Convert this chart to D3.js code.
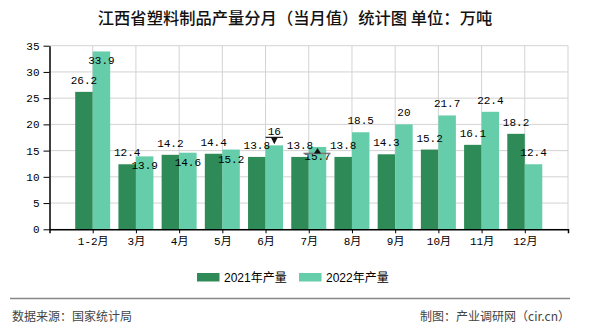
<!DOCTYPE html>
<html>
<head>
<meta charset="utf-8">
<script src="https://cdn.jsdelivr.net/npm/d3@7"></script>
<style>
  html, body { margin: 0; padding: 0; background: #fff; }
  svg { display: block; }
</style>
</head>
<body>
<svg id="chart" width="590" height="330"></svg>
<script>
const title = "江西省塑料制品产量分月（当月值）统计图 单位：万吨";
const categories = ["1-2月", "3月", "4月", "5月", "6月", "7月", "8月", "9月", "10月", "11月", "12月"];
const values2021 = [26.2, 12.4, 14.2, 14.4, 13.8, 13.8, 13.8, 14.3, 15.2, 16.1, 18.2];
const values2022 = [33.9, 13.9, 14.6, 15.2, 16, 15.7, 18.5, 20, 21.7, 22.4, 12.4];
const seriesNames = ["2021年产量", "2022年产量"];
const yTicks = [0, 5, 10, 15, 20, 25, 30, 35];
const markers = [{ cat: "6月", dir: "down" }, { cat: "7月", dir: "up" }];
const sourceText = "数据来源：国家统计局";
const creditText = "制图：产业调研网（cir.cn）";

const colors = ["#2e8b57", "#66cdaa"];
const monoFont = "'Liberation Mono', 'Noto Sans CJK SC', monospace";
const cjkFont = "'Noto Sans CJK SC', 'Liberation Sans', sans-serif";

const svg = d3.select("#chart");
const plotL = 49.5, plotR = 568, plotT = 45.7, plotB = 229.3;

const x = d3.scalePoint().domain(categories).range([plotL, plotR]).padding(1);
const y = d3.scaleLinear().domain([0, 35]).range([plotB, plotT]);
const barW = 17.5;

// title
svg.append("text")
  .attr("x", 295).attr("y", 24)
  .attr("text-anchor", "middle")
  .attr("font-family", cjkFont)
  .attr("font-size", 16.3)
  .attr("font-weight", 500)
  .attr("fill", "#111")
  .text(title);

// grid
const grid = svg.append("g");
grid.selectAll("line.h").data(yTicks).join("line")
  .attr("x1", plotL).attr("x2", plotR)
  .attr("y1", d => y(d)).attr("y2", d => y(d))
  .attr("stroke", "#d3d3d3").attr("stroke-width", 1);
grid.selectAll("line.v").data(categories.map(c => x(c)).concat([plotR])).join("line")
  .attr("x1", d => d).attr("x2", d => d)
  .attr("y1", y(35)).attr("y2", y(0))
  .attr("stroke", "#d3d3d3").attr("stroke-width", 1);

// bars
const series = [values2021, values2022];
series.forEach((vals, si) => {
  svg.append("g").selectAll("rect").data(vals).join("rect")
    .attr("x", (d, i) => x(categories[i]) + (si === 0 ? -barW : 0))
    .attr("y", d => y(d))
    .attr("width", barW)
    .attr("height", d => y(0) - y(d))
    .attr("fill", colors[si]);
});

// axes
const xAxis = svg.append("g")
  .attr("transform", `translate(0,${plotB})`)
  .call(d3.axisBottom(x).tickSize(4).tickSizeOuter(4));
xAxis.select(".domain").attr("stroke", "#000").attr("stroke-width", 1.5);
xAxis.selectAll(".tick line").attr("stroke", "#000");
xAxis.selectAll(".tick text")
  .attr("font-family", monoFont).attr("font-size", 11).attr("fill", "#000")
  .attr("dy", "0.71em").attr("y", 8);

const yAxis = svg.append("g")
  .attr("transform", `translate(${plotL},0)`)
  .call(d3.axisLeft(y).tickValues(yTicks).tickSize(6).tickSizeOuter(0));
yAxis.select(".domain").attr("stroke", "#000").attr("stroke-width", 1.5);
yAxis.selectAll(".tick line").attr("stroke", "#000");
yAxis.selectAll(".tick text")
  .attr("font-family", monoFont).attr("font-size", 11).attr("fill", "#000")
  .attr("x", -10);

// value labels
const labels = svg.append("g")
  .attr("font-family", monoFont).attr("font-size", 11).attr("fill", "#000")
  .attr("text-anchor", "middle");
categories.forEach((c, i) => {
  const v1 = values2021[i], v2 = values2022[i];
  labels.append("text")
    .attr("x", x(c) - barW / 2).attr("y", y(v1) - 8)
    .text(v1);
  const below = (v2 - v1 < 2 && v2 >= v1) || y(v2) - 20 < plotT;
  const mk = markers.find(m => m.cat === c);
  let ly = below ? y(v2) + 13 : y(v2) - 8;
  if (mk && mk.dir === "down") ly = y(v2) - 10.5;
  labels.append("text")
    .attr("x", x(c) + barW / 2).attr("y", ly)
    .text(v2);
});

// markers
markers.forEach(m => {
  const i = categories.indexOf(m.cat);
  const cx = x(m.cat) + barW / 2;
  const ty = y(values2022[i]);
  if (m.dir === "down") {
    svg.append("line")
      .attr("x1", cx - barW / 2).attr("x2", cx + barW / 2)
      .attr("y1", ty - 8).attr("y2", ty - 8)
      .attr("stroke", "#222").attr("stroke-width", 1.2);
    svg.append("path")
      .attr("d", `M${cx - 3.5},${ty - 8} L${cx + 3.5},${ty - 8} L${cx},${ty - 1} Z`)
      .attr("fill", "#111");
  } else {
    svg.append("line")
      .attr("x1", cx - 14).attr("x2", cx + 13)
      .attr("y1", ty + 6.5).attr("y2", ty + 6.5)
      .attr("stroke", "#777").attr("stroke-width", 1.5);
    svg.append("path")
      .attr("d", `M${cx - 3.5},${ty + 6.5} L${cx + 3.5},${ty + 6.5} L${cx},${ty + 1} Z`)
      .attr("fill", "#111");
  }
});

// legend
const legendX = [197, 299];
seriesNames.forEach((name, si) => {
  svg.append("rect")
    .attr("x", legendX[si]).attr("y", 273)
    .attr("width", 22.5).attr("height", 8.5)
    .attr("fill", colors[si]);
  svg.append("text")
    .attr("x", legendX[si] + 27).attr("y", 281.5)
    .attr("font-family", "'Liberation Sans', 'Noto Sans CJK SC', sans-serif")
    .attr("font-size", 12).attr("fill", "#000")
    .text(name);
});

// footer
svg.append("line")
  .attr("x1", 10).attr("x2", 570)
  .attr("y1", 298.5).attr("y2", 298.5)
  .attr("stroke", "#888").attr("stroke-width", 1.5);
svg.append("text")
  .attr("x", 12).attr("y", 320.5)
  .attr("font-family", cjkFont).attr("font-size", 12).attr("fill", "#444")
  .text(sourceText);
svg.append("text")
  .attr("x", 570).attr("y", 320.5)
  .attr("text-anchor", "end")
  .attr("font-family", cjkFont).attr("font-size", 12).attr("fill", "#444")
  .text(creditText);
</script>
</body>
</html>
